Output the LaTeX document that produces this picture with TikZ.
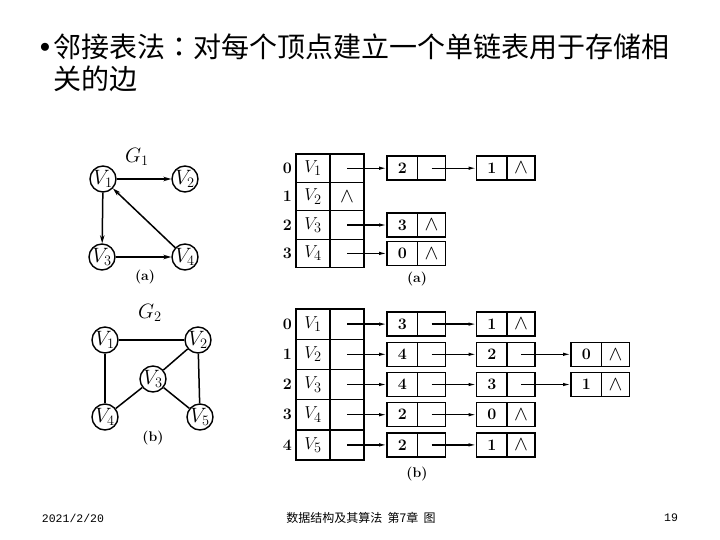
\documentclass[tikz,border=0pt]{standalone}
\usepackage{fontspec}
\usepackage{amsmath}
\usetikzlibrary{positioning, arrows.meta}
\newfontfamily\cjk{Noto Sans CJK SC}
\newfontfamily\cjktc{Noto Sans CJK TC}
\newfontfamily\footmono{Liberation Mono}
\newcommand{\nil}{\fontsize{22}{22}\selectfont$\wedge$}
\tikzset{
  vtx/.style={circle, draw, line width=1.4pt, minimum size=25pt, inner sep=0pt,
    font=\fontsize{20}{20}\selectfont},
  darc/.style={-{Stealth[length=8pt, width=4.5pt]}, line width=1.5pt},
  undir/.style={line width=1.5pt},
  cell/.style={rectangle, draw, line width=1.4pt, outer sep=0pt, inner sep=0pt,
    minimum width=34pt, font=\fontsize{19}{19}\selectfont},
  vcella/.style={cell, minimum height=28.4pt},
  vcellb/.style={cell, minimum height=30.2pt},
  keycell/.style={cell, minimum width=30.5pt, minimum height=24pt,
    font=\fontsize{16}{16}\selectfont\bfseries},
  ptrcell/.style={cell, minimum width=28pt, minimum height=24pt},
  idx/.style={inner sep=0pt, font=\fontsize{16}{16}\selectfont\bfseries},
  subcap/.style={font=\fontsize{14}{14}\selectfont\bfseries},
  link/.style={-{Latex[length=8pt, width=3.5pt]}, line width=1.3pt},
}
\begin{document}
\begin{tikzpicture}[x=1pt, y=-1pt]
    \useasboundingbox[fill=white] (0,0) rectangle (720,540);
    % title
    \node[inner sep=0pt, font=\fontsize{20}{20}\selectfont] (bul) at (45,48) {$\bullet$};
    \node[anchor=north west, align=left, inner sep=0pt,
      font=\cjk\fontsize{28}{32}\selectfont] (title) at (53,34)
      {邻接表法{\cjktc ：}对每个顶点建立一个单链表用于存储相\\关的边};
    % graph G1
    \node[vtx] (g1v1) at (103,179) {$V_1$};
    \node[vtx] (g1v2) at (185,179) {$V_2$};
    \node[vtx] (g1v3) at (102,257) {$V_3$};
    \node[vtx] (g1v4) at (185,257) {$V_4$};
    \node[font=\fontsize{20}{20}\selectfont] (g1name) at (137,157) {$G_1$};
    \node[subcap] (g1cap) at (145,277) {(a)};
    \draw[darc] (g1v1) -- (g1v2);
    \draw[darc] (g1v1) -- (g1v3);
    \draw[darc] (g1v3) -- (g1v4);
    \draw[darc] (g1v4) -- (g1v1);
    % graph G2
    \node[vtx] (g2v1) at (105,340) {$V_1$};
    \node[vtx] (g2v2) at (198,340) {$V_2$};
    \node[vtx] (g2v3) at (153,379) {$V_3$};
    \node[vtx] (g2v4) at (105,417) {$V_4$};
    \node[vtx] (g2v5) at (200,417) {$V_5$};
    \node[font=\fontsize{20}{20}\selectfont] (g2name) at (150,313) {$G_2$};
    \node[subcap] (g2cap) at (153,438) {(b)};
    \draw[undir] (g2v1) -- (g2v2);
    \draw[undir] (g2v1) -- (g2v4);
    \draw[undir] (g2v2) -- (g2v3);
    \draw[undir] (g2v2) -- (g2v5);
    \draw[undir] (g2v3) -- (g2v4);
    \draw[undir] (g2v3) -- (g2v5);
    % adjacency list (a)
    \node[vcella, anchor=north west] (a0v) at (296,154) {$V_1$};
    \node[vcella, right=0pt of a0v] (a0p) {};
    \node[vcella, below=0pt of a0v] (a1v) {$V_2$};
    \node[vcella, right=0pt of a1v] (a1p) {\nil};
    \node[vcella, below=0pt of a1v] (a2v) {$V_3$};
    \node[vcella, right=0pt of a2v] (a2p) {};
    \node[vcella, below=0pt of a2v] (a3v) {$V_4$};
    \node[vcella, right=0pt of a3v] (a3p) {};
    \node[idx, left=4pt of a0v] (a0i) {0};
    \node[idx, left=4pt of a1v] (a1i) {1};
    \node[idx, left=4pt of a2v] (a2i) {2};
    \node[idx, left=4pt of a3v] (a3i) {3};
    \node[keycell, right=23pt of a0p] (a00k) {2};
    \node[ptrcell, right=0pt of a00k] (a00p) {};
    \node[keycell, right=31pt of a00p] (a01k) {1};
    \node[ptrcell, right=0pt of a01k] (a01p) {\nil};
    \node[keycell, right=23pt of a2p] (a20k) {3};
    \node[ptrcell, right=0pt of a20k] (a20p) {\nil};
    \node[keycell, right=23pt of a3p] (a30k) {0};
    \node[ptrcell, right=0pt of a30k] (a30p) {\nil};
    \draw[link] (a0p.center) -- (a00k.west);
    \draw[link] (a00p.center) -- (a01k.west);
    \draw[link] (a2p.center) -- (a20k.west);
    \draw[link] (a3p.center) -- (a30k.west);
    \node[subcap] (acap) at (417,279) {(a)};
    % adjacency list (b)
    \node[vcellb, anchor=north west] (b0v) at (296,309) {$V_1$};
    \node[vcellb, right=0pt of b0v] (b0p) {};
    \node[vcellb, below=0pt of b0v] (b1v) {$V_2$};
    \node[vcellb, right=0pt of b1v] (b1p) {};
    \node[vcellb, below=0pt of b1v] (b2v) {$V_3$};
    \node[vcellb, right=0pt of b2v] (b2p) {};
    \node[vcellb, below=0pt of b2v] (b3v) {$V_4$};
    \node[vcellb, right=0pt of b3v] (b3p) {};
    \node[vcellb, below=0pt of b3v] (b4v) {$V_5$};
    \node[vcellb, right=0pt of b4v] (b4p) {};
    \node[idx, left=4pt of b0v] (b0i) {0};
    \node[idx, left=4pt of b1v] (b1i) {1};
    \node[idx, left=4pt of b2v] (b2i) {2};
    \node[idx, left=4pt of b3v] (b3i) {3};
    \node[idx, left=4pt of b4v] (b4i) {4};
    \node[keycell, right=23pt of b0p] (b00k) {3};
    \node[ptrcell, right=0pt of b00k] (b00p) {};
    \node[keycell, right=31pt of b00p] (b01k) {1};
    \node[ptrcell, right=0pt of b01k] (b01p) {\nil};
    \node[keycell, right=23pt of b1p] (b10k) {4};
    \node[ptrcell, right=0pt of b10k] (b10p) {};
    \node[keycell, right=31pt of b10p] (b11k) {2};
    \node[ptrcell, right=0pt of b11k] (b11p) {};
    \node[keycell, right=36pt of b11p] (b12k) {0};
    \node[ptrcell, right=0pt of b12k] (b12p) {\nil};
    \node[keycell, right=23pt of b2p] (b20k) {4};
    \node[ptrcell, right=0pt of b20k] (b20p) {};
    \node[keycell, right=31pt of b20p] (b21k) {3};
    \node[ptrcell, right=0pt of b21k] (b21p) {};
    \node[keycell, right=36pt of b21p] (b22k) {1};
    \node[ptrcell, right=0pt of b22k] (b22p) {\nil};
    \node[keycell, right=23pt of b3p] (b30k) {2};
    \node[ptrcell, right=0pt of b30k] (b30p) {};
    \node[keycell, right=31pt of b30p] (b31k) {0};
    \node[ptrcell, right=0pt of b31k] (b31p) {\nil};
    \node[keycell, right=23pt of b4p] (b40k) {2};
    \node[ptrcell, right=0pt of b40k] (b40p) {};
    \node[keycell, right=31pt of b40p] (b41k) {1};
    \node[ptrcell, right=0pt of b41k] (b41p) {\nil};
    \draw[link] (b0p.center) -- (b00k.west);
    \draw[link] (b00p.center) -- (b01k.west);
    \draw[link] (b1p.center) -- (b10k.west);
    \draw[link] (b10p.center) -- (b11k.west);
    \draw[link] (b11p.center) -- (b12k.west);
    \draw[link] (b2p.center) -- (b20k.west);
    \draw[link] (b20p.center) -- (b21k.west);
    \draw[link] (b21p.center) -- (b22k.west);
    \draw[link] (b3p.center) -- (b30k.west);
    \draw[link] (b30p.center) -- (b31k.west);
    \draw[link] (b4p.center) -- (b40k.west);
    \draw[link] (b40p.center) -- (b41k.west);
    \node[subcap] (bcap) at (417,474) {(b)};
    % footer
    \node[font=\footmono\fontsize{11.5}{12}\selectfont] (date) at (73,518) {2021/2/20};
    \node[font=\cjk\fontsize{12}{12}\selectfont] (foot) at (361,518) {数据结构及其算法\ \ 第7章\ \ 图};
    \node[font=\footmono\fontsize{11.5}{12}\selectfont] (page) at (671,518) {19};
\end{tikzpicture}
\end{document}
